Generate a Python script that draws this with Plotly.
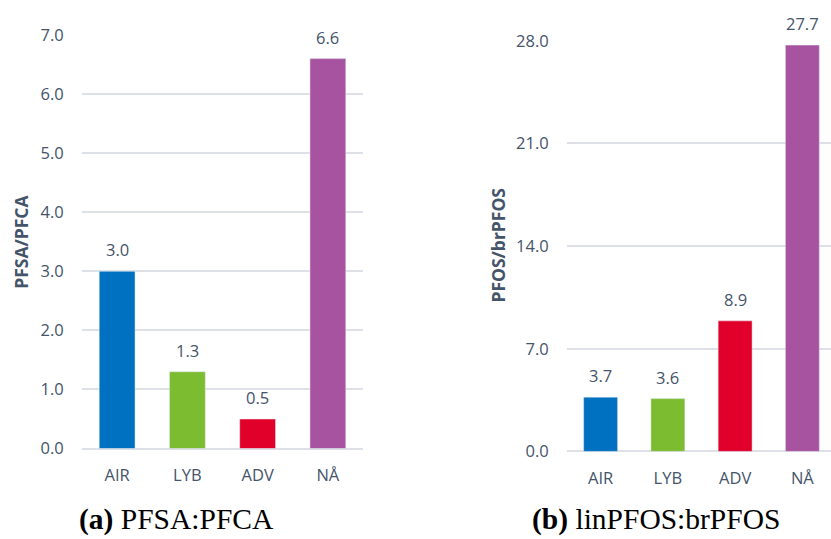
import plotly.graph_objects as go

W, H = 831, 539

sites = ["AIR", "LYB", "ADV", "NÅ"]
pfsa_pfca = [3.0, 1.3, 0.5, 6.6]
lin_br_pfos = [3.7, 3.6, 8.9, 27.7]
bar_colors = ["#0070C0", "#7CBC31", "#E1002A", "#A8539F"]

left_ticks = [0, 1, 2, 3, 4, 5, 6, 7]
right_ticks = [0, 7, 14, 21, 28]

text_col = "#44546A"
grid_col = "#DDE1E7"
tick_font = dict(family="Open Sans", size=16.5, color=text_col)


def px_x(p):
    return p / W


def px_y(p):
    return 1 - p / H


fig = go.Figure()
fig.add_trace(go.Bar(x=sites, y=pfsa_pfca, marker_color=bar_colors, width=0.51,
                     xaxis="x", yaxis="y", showlegend=False, hoverinfo="x+y"))
fig.add_trace(go.Bar(x=sites, y=lin_br_pfos, marker_color=bar_colors, width=0.505,
                     xaxis="x2", yaxis="y2", showlegend=False, hoverinfo="x+y"))

annotations = []
for s, v in zip(sites, pfsa_pfca):
    annotations.append(dict(x=s, y=v, xref="x", yref="y", text=f"{v:.1f}",
                            showarrow=False, yanchor="bottom", yshift=8,
                            font=tick_font))
for s, v in zip(sites, lin_br_pfos):
    annotations.append(dict(x=s, y=v, xref="x2", yref="y2", text=f"{v:.1f}",
                            showarrow=False, yanchor="bottom", yshift=8,
                            font=tick_font))

# rotated axis titles
title_font = dict(family="Open Sans", size=17.5, color=text_col)
annotations.append(dict(x=px_x(21), y=px_y(240), xref="paper", yref="paper",
                        xanchor="center", yanchor="middle",
                        text="<b>PFSA/PFCA</b>", textangle=-90, showarrow=False,
                        font=title_font))
annotations.append(dict(x=px_x(498), y=px_y(244), xref="paper", yref="paper",
                        xanchor="center", yanchor="middle",
                        text="<b>PFOS/brPFOS</b>", textangle=-90, showarrow=False,
                        font=title_font))

# panel captions
cap_font = dict(family="Liberation Serif", size=29.5, color="black")
annotations.append(dict(x=px_x(176.5), y=px_y(530), xref="paper", yref="paper",
                        xanchor="center", yanchor="middle",
                        text="<b>(a)</b> PFSA:PFCA", showarrow=False, font=cap_font))
annotations.append(dict(x=px_x(655.5), y=px_y(530), xref="paper", yref="paper",
                        xanchor="center", yanchor="middle",
                        text="<b>(b)</b> linPFOS:brPFOS", showarrow=False, font=cap_font))

xaxis_common = dict(showgrid=False, showline=False, zeroline=False,
                    ticks="outside", ticklen=12, tickcolor="rgba(0,0,0,0)",
                    tickfont=tick_font, fixedrange=True)
yaxis_common = dict(showgrid=True, gridcolor=grid_col, gridwidth=1.5,
                    zeroline=True, zerolinecolor=grid_col, zerolinewidth=1.5,
                    showline=False, ticks="outside", ticklen=14,
                    tickcolor="rgba(0,0,0,0)", tickformat=".1f",
                    tickfont=tick_font, fixedrange=True)

fig.update_layout(
    width=W, height=H,
    margin=dict(l=0, r=0, t=0, b=0),
    paper_bgcolor="white", plot_bgcolor="white",
    xaxis=dict(domain=[px_x(82), px_x(363)], anchor="y", range=[-0.5, 3.5],
               **xaxis_common),
    yaxis=dict(domain=[px_y(456), px_y(24)], anchor="x", range=[0, 7],
               tickvals=left_ticks, **yaxis_common),
    xaxis2=dict(domain=[px_x(567), 1.0], anchor="y2",
                range=[-0.5, 3.5 - 5 / 67.3], **xaxis_common),
    yaxis2=dict(domain=[px_y(459), px_y(30)], anchor="x2", range=[0, 28],
                tickvals=right_ticks, **yaxis_common),
    annotations=annotations,
)

fig.write_html("out.html")
